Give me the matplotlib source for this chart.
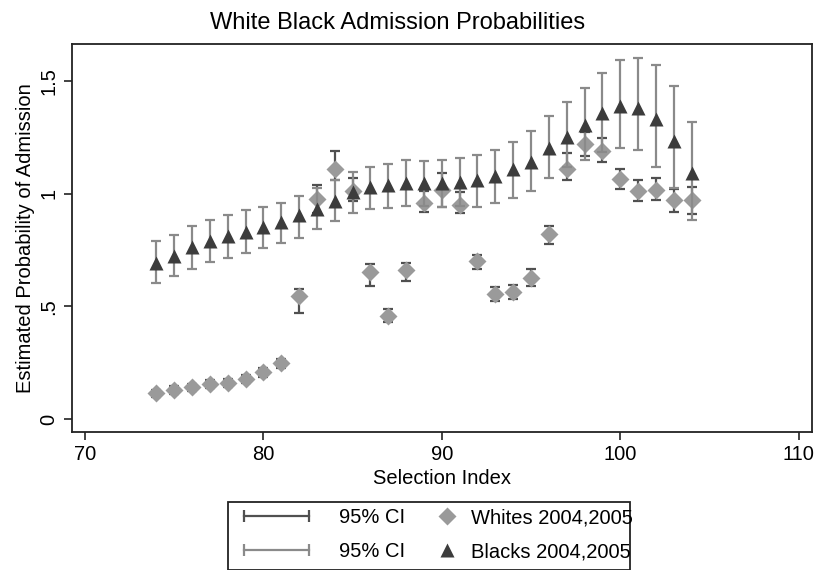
import numpy as np
import matplotlib.pyplot as plt
from matplotlib.lines import Line2D
from matplotlib.legend_handler import HandlerLine2D
from matplotlib.patches import Rectangle

plt.rcParams['font.family'] = ['Liberation Sans', 'DejaVu Sans']

# selection index
idx = list(range(74, 105))

# whites 2004,2005: estimate and 95% CI
w_est = [0.114, 0.129, 0.141, 0.154, 0.161, 0.178, 0.207, 0.247, 0.546, 0.976,
         1.110, 1.012, 0.654, 0.459, 0.661, 0.957, 1.016, 0.948, 0.701, 0.555,
         0.565, 0.627, 0.820, 1.108, 1.221, 1.191, 1.064, 1.012, 1.016, 0.971, 0.971]
w_lo = [0.099, 0.113, 0.125, 0.137, 0.144, 0.160, 0.188, 0.226, 0.470, 0.915,
        1.061, 0.968, 0.590, 0.432, 0.612, 0.917, 0.940, 0.913, 0.664, 0.525,
        0.534, 0.592, 0.775, 1.061, 1.167, 1.142, 1.019, 0.969, 0.972, 0.920, 0.910]
w_hi = [0.129, 0.145, 0.157, 0.171, 0.178, 0.196, 0.226, 0.268, 0.578, 1.039,
        1.191, 1.068, 0.688, 0.487, 0.691, 1.013, 1.090, 1.006, 0.728, 0.585,
        0.595, 0.664, 0.858, 1.179, 1.272, 1.246, 1.108, 1.061, 1.068, 1.022, 1.031]

# blacks 2004,2005: estimate and 95% CI
b_est = [0.694, 0.723, 0.762, 0.789, 0.814, 0.831, 0.854, 0.876, 0.905, 0.934,
         0.969, 1.006, 1.028, 1.039, 1.049, 1.046, 1.046, 1.053, 1.062, 1.080,
         1.108, 1.142, 1.204, 1.253, 1.303, 1.360, 1.389, 1.382, 1.333, 1.235, 1.093]
b_lo = [0.605, 0.635, 0.666, 0.697, 0.716, 0.737, 0.757, 0.783, 0.805, 0.842,
        0.880, 0.913, 0.931, 0.935, 0.947, 0.947, 0.942, 0.945, 0.942, 0.960,
        0.981, 1.011, 1.068, 1.120, 1.150, 1.185, 1.204, 1.194, 1.120, 1.024, 0.883]
b_hi = [0.790, 0.818, 0.858, 0.885, 0.905, 0.926, 0.941, 0.959, 0.988, 1.026,
        1.062, 1.095, 1.120, 1.132, 1.150, 1.147, 1.150, 1.157, 1.172, 1.194,
        1.229, 1.277, 1.345, 1.407, 1.469, 1.534, 1.593, 1.601, 1.570, 1.478, 1.318]

w_ci_col = '#505050'
b_ci_col = '#8a8a8a'
w_col = '#9a9a9a'
b_col = '#3c3c3c'

fig = plt.figure(figsize=(8.19, 5.70), dpi=100)
ax = fig.add_axes([0.0875, 0.2416, 0.9039, 0.6807])

x = np.array(idx)
w = np.array(w_est)
b = np.array(b_est)

ax.errorbar(x, w, yerr=[w - np.array(w_lo), np.array(w_hi) - w], fmt='none',
            ecolor=w_ci_col, elinewidth=1.6, capsize=3.6, capthick=1.6, zorder=2)
ax.plot(x, w, 'D', color=w_col, ms=9, mec='none', zorder=3)
ax.errorbar(x, b, yerr=[b - np.array(b_lo), np.array(b_hi) - b], fmt='none',
            ecolor=b_ci_col, elinewidth=1.6, capsize=3.6, capthick=1.6, zorder=4)
ax.plot(x, b, '^', color=b_col, ms=10, mec='none', zorder=5)

ax.set_xlim(69.25, 110.75)
ax.set_ylim(-0.059, 1.663)
ax.set_xticks([70, 80, 90, 100, 110])
ax.set_yticks([0, 0.5, 1, 1.5])
ax.set_yticklabels(['0', '.5', '1', '1.5'], rotation=90, va='center')
ax.tick_params(labelsize=14.5, length=6, width=1.2, color='#222222')
for s in ax.spines.values():
    s.set_linewidth(1.3)
    s.set_color('#222222')

ax.set_xlabel('Selection Index', fontsize=14.5, labelpad=3)
ax.set_ylabel('Estimated Probability of Admission', fontsize=14.5, labelpad=3)
fig.text(398 / 819, 1 - 23 / 570, 'White Black Admission Probabilities',
         fontsize=17, ha='center', va='center')

# legend
ci_w = Line2D([], [], color=w_ci_col, lw=1.6, marker='|', ms=8, mew=1.6)
ci_b = Line2D([], [], color=b_ci_col, lw=1.6, marker='|', ms=8, mew=1.6)
hw = Line2D([], [], ls='none', marker='D', color=w_col, ms=9, mec='none')
hb = Line2D([], [], ls='none', marker='^', color=b_col, ms=10, mec='none')

leg1 = fig.legend([ci_w, ci_b], ['95% CI', '95% CI'], loc='upper left',
                  bbox_to_anchor=(238 / 819, 1 - 508 / 570), frameon=False,
                  fontsize=14.5, handlelength=3.85, handletextpad=1.15,
                  borderpad=0, borderaxespad=0, labelspacing=0.75,
                  handler_map={ci_w: HandlerLine2D(numpoints=2),
                               ci_b: HandlerLine2D(numpoints=2)})
leg2 = fig.legend([hw, hb], ['Whites 2004,2005', 'Blacks 2004,2005'], loc='upper left',
                  bbox_to_anchor=(437 / 819, 1 - 508 / 570), frameon=False,
                  fontsize=14.5, handlelength=1.0, handletextpad=0.7,
                  borderpad=0, borderaxespad=0, labelspacing=0.75)
fig.patches.append(Rectangle((228 / 819, 0.0), (630 - 228) / 819, 1 - 502 / 570,
                             transform=fig.transFigure, fill=False,
                             edgecolor='#222222', lw=1.3))

fig.savefig('out.png', dpi=100)
